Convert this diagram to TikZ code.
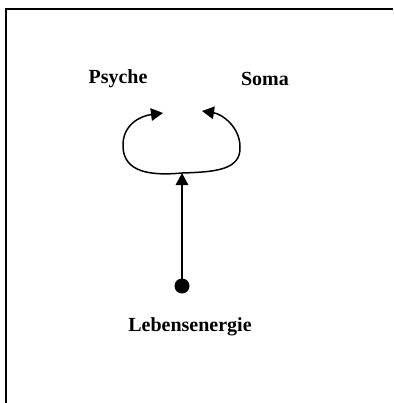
\documentclass[tikz,border=0pt]{standalone}
\usepackage{fontspec}
\setmainfont{Liberation Serif}
\usetikzlibrary{arrows.meta}
\begin{document}
\begin{tikzpicture}[x=1pt,y=-1pt,
  lbl/.style={font=\fontsize{20}{24}\selectfont\bfseries, inner sep=0pt},
  conn/.style={line width=1.5pt, -{Triangle[length=12pt,width=12.5pt]}},
  framel/.style={line width=2pt}]
\useasboundingbox (0,0) rectangle (393,403);
\draw[framel] (6,403) -- (6,9) -- (393,9);
\node[lbl] (psyche) at (118,79) {Psyche};
\node[lbl] (soma) at (265,79) {Soma};
\node[lbl] (leben) at (190,327) {Lebensenergie};
\coordinate (dot) at (182,286);
\coordinate (junc) at (182,173);
\coordinate (lt) at (163,113);
\coordinate (rt) at (202,111);
\fill (dot) circle (7.5);
\draw[conn] (dot) -- (junc);
\draw[conn] (junc) .. controls (150,176) and (124,172) .. (123,147)
  .. controls (122,125) and (140,116) .. (lt);
\draw[conn] (junc) .. controls (215,172) and (241,170) .. (240,147)
  .. controls (240,127) and (222,114) .. (rt);
\end{tikzpicture}
\end{document}
